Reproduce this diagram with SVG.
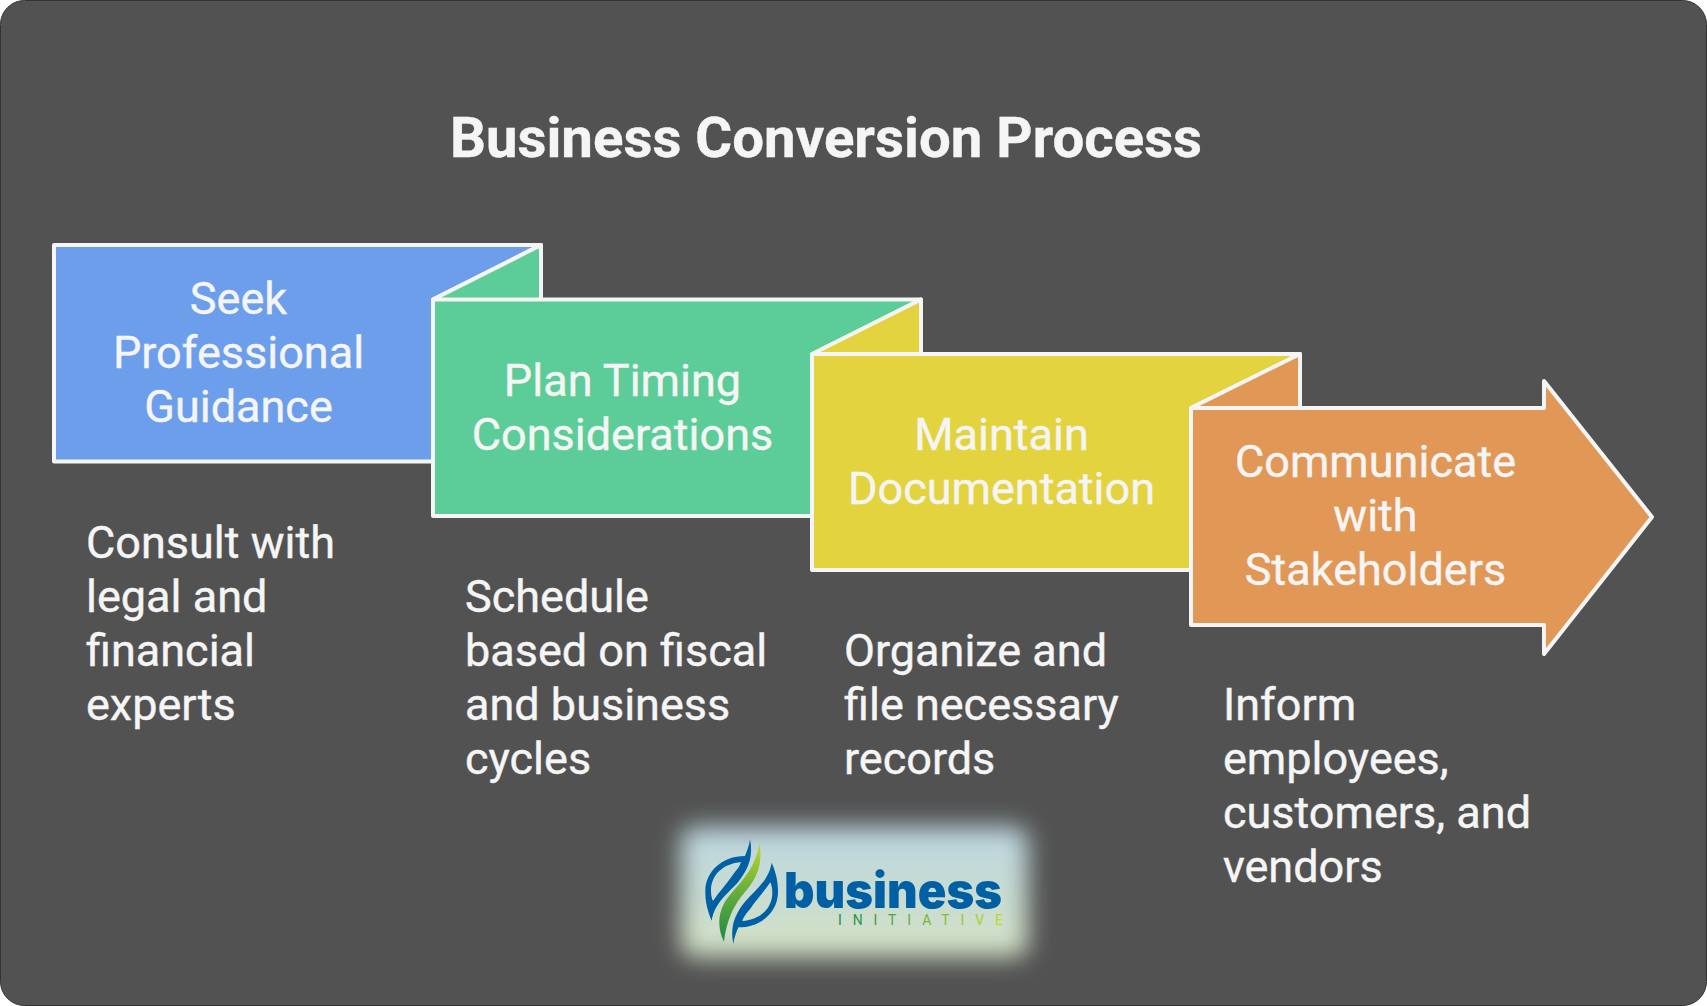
<svg xmlns="http://www.w3.org/2000/svg" width="1707" height="1006" viewBox="0 0 1707 1006">
<style>
text{font-family:Roboto,"Liberation Sans",sans-serif;fill:#f5f5f5;stroke:#f5f5f5;stroke-width:.4}
.t{font-size:45px;text-anchor:middle}
.d{font-size:45px}
.s{stroke:#f5f5f5;stroke-width:4;stroke-linejoin:round}
.logo{fill:#0060a3}
</style>
<defs>
<filter id="blur" x="-20%" y="-30%" width="140%" height="160%"><feGaussianBlur stdDeviation="12"/></filter>
<linearGradient id="bg" x1="0" y1="0" x2="0" y2="1"><stop offset="0" stop-color="#bcd6e2"/><stop offset="1" stop-color="#d3e2c4"/></linearGradient>
<linearGradient id="leaf" x1="0" y1="0" x2="0" y2="1"><stop offset="0" stop-color="#c2d82e"/><stop offset=".45" stop-color="#6fb03a"/><stop offset="1" stop-color="#1f8a44"/></linearGradient>
<linearGradient id="init" x1="0" y1="0" x2="1" y2="0"><stop offset="0" stop-color="#1f8a44"/><stop offset="1" stop-color="#c2d82e"/></linearGradient>
</defs>
<rect x="0.5" y="0.5" width="1706" height="1005" rx="24" fill="#525252" stroke="#333333"/>
<text id="title" x="826" y="157" font-size="56.4" font-weight="700" text-anchor="middle">Business Conversion Process</text>
<g id="connectors"></g>
<g id="node-1">
<path class="s" fill="#6d9eeb" d="M54 245H541L433 299.5V461.5H54Z"/>
<text class="t" x="238.5" y="314">Seek</text><text class="t" x="238.5" y="368">Professional</text><text class="t" x="238.5" y="422">Guidance</text>
<text class="d" x="86" y="558">Consult with</text><text class="d" x="86" y="612">legal and</text><text class="d" x="86" y="666">financial</text><text class="d" x="86" y="720">experts</text>
</g>
<g id="node-2">
<path class="s" fill="#5ccd98" d="M433 299.5H921L813 354V516H433ZM433 299.5L541 245V299.5Z"/>
<text class="t" x="622.5" y="396">Plan Timing</text><text class="t" x="622.5" y="450">Considerations</text>
<text class="d" x="465" y="612">Schedule</text><text class="d" x="465" y="666">based on fiscal</text><text class="d" x="465" y="720">and business</text><text class="d" x="465" y="774">cycles</text>
</g>
<g id="node-3">
<path class="s" fill="#e3d33f" d="M812 354H1300L1191 408V570H812ZM812 354L921 299.5V354Z"/>
<text class="t" x="1001.5" y="450">Maintain</text><text class="t" x="1001.5" y="504">Documentation</text>
<text class="d" x="844" y="666">Organize and</text><text class="d" x="844" y="720">file necessary</text><text class="d" x="844" y="774">records</text>
</g>
<g id="node-4">
<path class="s" fill="#e19856" d="M1191 408H1544V381L1652 517L1544 654V625H1191ZM1191 408L1300 354V408Z"/>
<text class="t" x="1375.5" y="477">Communicate</text><text class="t" x="1375.5" y="531">with</text><text class="t" x="1375.5" y="585">Stakeholders</text>
<text class="d" x="1223" y="720">Inform</text><text class="d" x="1223" y="774">employees,</text><text class="d" x="1223" y="828">customers, and</text><text class="d" x="1223" y="882">vendors</text>
</g>
<g id="logo">
<rect x="681" y="827" width="347" height="130" rx="14" fill="url(#bg)" filter="url(#blur)"/>
<g transform="translate(640 800) scale(.33333)">
<path id="sw" class="logo" fill-rule="evenodd" d="M330 118C340 165 328 205 295 245C265 280 225 305 215 362C203 335 195 305 196 270C198 215 245 168 315 168C322 150 328 135 330 118ZM303 187C250 190 213 225 213 272C213 285 215 295 219 303C235 278 258 255 276 228C290 210 299 200 303 187Z"/>
<use href="#sw" transform="rotate(180 305 275)"/>
<path fill="url(#leaf)" d="M358 130C370 190 350 235 320 270C290 305 262 345 252 425C232 385 235 345 250 315C275 265 345 225 358 130Z"/>
</g>
<text x="784" y="908" font-size="49" font-weight="900" textLength="218" lengthAdjust="spacingAndGlyphs" style="font-family:Inter,Roboto,sans-serif;fill:#0060a3;stroke:none">business</text>
<text x="838" y="925" font-size="14" textLength="165" style="font-family:Roboto,sans-serif;fill:url(#init);stroke:none">INITIATIVE</text>
</g>
</svg>
